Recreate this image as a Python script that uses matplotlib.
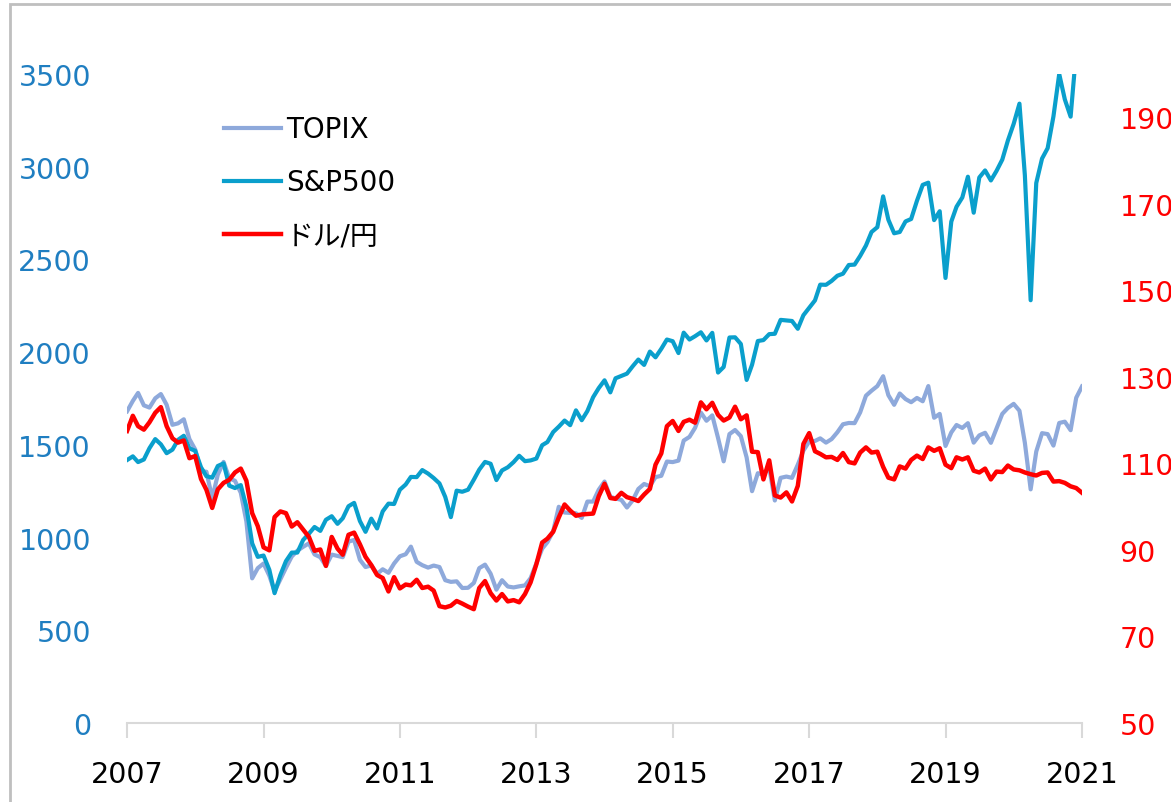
import matplotlib
matplotlib.use("Agg")
import matplotlib.pyplot as plt
import matplotlib.ticker as mticker
from matplotlib.patches import Rectangle
import matplotlib.dates as mdates
import pandas as pd

plt.rcParams['font.family'] = ['DejaVu Sans', 'Noto Sans CJK JP']

# month-start values, Jan 2007 .. Jan 2021
dates = pd.date_range('2007-01-01', periods=169, freq='MS')
year_ticks = list(range(2007, 2022, 2))

topix = [1681, 1737, 1780, 1713, 1701, 1751, 1774, 1716, 1608, 1616, 1638, 1531,
         1475, 1357, 1355, 1212, 1339, 1408, 1320, 1306, 1242, 1087, 780, 835,
         860, 794, 710, 774, 837, 898, 929, 950, 969, 909, 894, 847,
         908, 901, 894, 978, 987, 880, 841, 850, 804, 829, 810, 860,
         899, 910, 951, 869, 851, 838, 849, 841, 770, 761, 764, 728,
         729, 755, 835, 854, 805, 719, 770, 736, 731, 737, 742, 781,
         860, 940, 975, 1034, 1166, 1135, 1133, 1131, 1106, 1194, 1194, 1258,
         1302, 1220, 1211, 1203, 1162, 1201, 1262, 1289, 1277, 1326, 1333, 1410,
         1407, 1415, 1523, 1543, 1592, 1674, 1630, 1659, 1537, 1411, 1558, 1580,
         1547, 1432, 1250, 1347, 1340, 1379, 1200, 1322, 1329, 1322, 1393, 1469,
         1518, 1521, 1535, 1512, 1531, 1568, 1611, 1618, 1617, 1675, 1765, 1792,
         1817, 1870, 1768, 1716, 1777, 1747, 1730, 1753, 1735, 1817, 1646, 1667,
         1494, 1567, 1607, 1591, 1617, 1512, 1551, 1565, 1511, 1587, 1667, 1699,
         1721, 1684, 1511, 1260, 1464, 1563, 1558, 1496, 1618, 1625, 1579, 1754,
         1815]

sp500 = [1418, 1438, 1407, 1421, 1482, 1531, 1503, 1455, 1474, 1527, 1549, 1481,
         1468, 1379, 1331, 1323, 1386, 1400, 1280, 1267, 1283, 1166, 969, 896,
         903, 826, 700, 798, 873, 919, 919, 987, 1021, 1057, 1036, 1096,
         1115, 1074, 1104, 1169, 1187, 1089, 1031, 1102, 1049, 1141, 1183, 1181,
         1258, 1286, 1327, 1326, 1364, 1345, 1321, 1292, 1219, 1110, 1253, 1247,
         1258, 1312, 1366, 1408, 1398, 1310, 1362, 1379, 1407, 1441, 1412, 1416,
         1426, 1498, 1515, 1569, 1598, 1631, 1606, 1686, 1633, 1682, 1757, 1806,
         1848, 1783, 1859, 1872, 1884, 1924, 1960, 1931, 2003, 1972, 2018, 2068,
         2059, 1995, 2105, 2068, 2086, 2107, 2063, 2104, 1890, 1920, 2079, 2080,
         2044, 1850, 1932, 2060, 2065, 2097, 2099, 2174, 2171, 2168, 2126, 2199,
         2239, 2279, 2364, 2363, 2384, 2412, 2423, 2470, 2472, 2519, 2575, 2648,
         2674, 2840, 2714, 2641, 2648, 2705, 2718, 2816, 2902, 2914, 2712, 2760,
         2400, 2704, 2784, 2834, 2946, 2752, 2942, 2980, 2926, 2977, 3038, 3141,
         3231, 3340, 2954, 2280, 2912, 3044, 3100, 3271, 3500, 3363, 3270, 3622,
         3756]

usdjpy = [117.5, 121.0, 118.6, 117.8, 119.5, 121.7, 123.0, 118.6, 115.8, 114.8, 115.3, 111.2,
          111.7, 106.4, 103.9, 99.7, 104.0, 105.5, 106.2, 107.9, 108.8, 106.0, 98.5, 95.5,
          90.6, 89.9, 97.6, 98.9, 98.5, 95.4, 96.4, 94.7, 93.0, 89.8, 90.1, 86.3,
          93.0, 90.3, 88.9, 93.5, 94.0, 91.3, 88.4, 86.5, 84.2, 83.5, 80.4, 83.7,
          81.1, 82.0, 81.8, 83.1, 81.2, 81.5, 80.6, 77.0, 76.7, 77.1, 78.2, 77.6,
          76.9, 76.3, 81.2, 82.8, 80.0, 78.3, 79.8, 78.1, 78.4, 77.9, 79.8, 82.5,
          86.7, 91.7, 92.6, 94.2, 97.5, 100.5, 99.1, 97.9, 98.2, 98.3, 98.4, 102.4,
          105.3, 102.0, 101.8, 103.2, 102.2, 101.8, 101.3, 102.8, 104.1, 109.7, 112.3, 118.6,
          119.8, 117.5, 119.6, 120.1, 119.4, 124.1, 122.5, 124.0, 121.2, 119.9, 120.6, 123.1,
          120.2, 121.1, 112.7, 112.6, 106.3, 110.7, 102.6, 102.1, 103.3, 101.2, 104.8, 114.5,
          117.0, 112.8, 112.2, 111.4, 111.5, 110.8, 112.4, 110.3, 110.0, 112.5, 113.7, 112.5,
          112.7, 109.2, 106.7, 106.3, 109.3, 108.8, 110.8, 111.8, 111.0, 113.7, 112.9, 113.5,
          109.7, 108.9, 111.4, 110.9, 111.4, 108.3, 107.9, 108.8, 106.3, 108.1, 108.0, 109.5,
          108.6, 108.4, 107.9, 107.5, 107.2, 107.8, 107.9, 105.8, 105.9, 105.5, 104.7, 104.3,
          103.2]

fig = plt.figure(figsize=(11.71, 8.03), dpi=100)
ax = fig.add_axes([0.1085, 0.0984, 0.8155, 0.8082])
ax2 = ax.twinx()

l1, = ax.plot(dates, topix, color='#8EA9DB', lw=3, label='TOPIX')
l2, = ax.plot(dates, sp500, color='#0A9FCC', lw=3, label='S&P500')
l3, = ax2.plot(dates, usdjpy, color='#FF0000', lw=3.2, label='ドル/円')

ax.set_ylim(0, 3500)
ax.set_yticks(range(0, 3501, 500))
ax2.set_ylim(50, 200)
ax2.set_yticks(range(50, 191, 20))
ax.set_xlim(pd.Timestamp('2007-01-01'), pd.Timestamp('2021-01-01'))
ax.xaxis.set_major_locator(mticker.FixedLocator(
    [mdates.date2num(pd.Timestamp(f'{y}-01-01')) for y in year_ticks]))
ax.xaxis.set_major_formatter(mdates.DateFormatter('%Y'))

for a in (ax, ax2):
    for s in a.spines.values():
        s.set_visible(False)
ax.spines['bottom'].set_visible(True)
ax.spines['bottom'].set_color('#D9D9D9')
ax.spines['bottom'].set_linewidth(1.5)

ax.tick_params(axis='x', colors='#D9D9D9', labelcolor='black', length=11, width=1.5,
               labelsize=20.5, pad=16)
ax.tick_params(axis='y', length=0, labelcolor='#1F7EC1', labelsize=20.5, pad=26)
ax2.tick_params(axis='y', length=0, labelcolor='#FF0000', labelsize=20.5, pad=27)

ax.legend(handles=[l1, l2, l3], loc='upper left', bbox_to_anchor=(0.075, 0.975),
          frameon=False, fontsize=20, handlelength=2.05, handletextpad=0.2,
          labelspacing=0.9)

fig.patches.append(Rectangle((10 / 1171, -0.1), 2, 1.1 - 5 / 803, transform=fig.transFigure,
                             fill=False, ec='#BFBFBF', lw=2))

fig.savefig('out.png', dpi=100)
